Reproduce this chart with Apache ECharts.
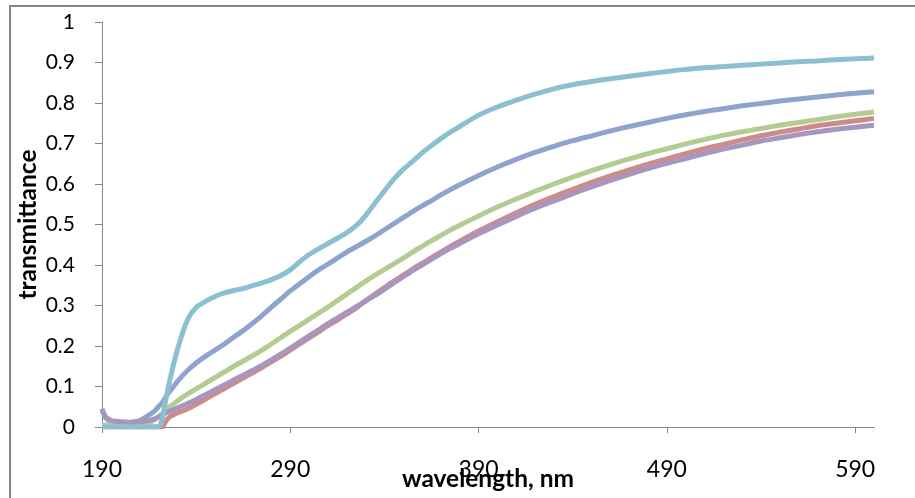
<!DOCTYPE html>
<html>
<head>
<meta charset="utf-8">
<script src="https://cdn.jsdelivr.net/npm/echarts@6/dist/echarts.min.js"></script>
<style>
html,body{margin:0;padding:0;background:#fff;}
#chart{width:915px;height:498px;}
</style>
</head>
<body>
<div id="chart"></div>
<script>
// wavelength grid (nm)
const wavelengths = [190,192,195,200,205,210,215,218,220,222,224,226,228,230,233,236,240,245,250,255,260,265,270,275,280,285,290,295,300,305,310,315,320,325,330,335,340,345,350,355,360,365,370,375,380,390,400,410,420,430,440,450,460,470,480,490,500,510,520,530,540,550,560,570,580,590,600];

const seriesBlue = [0.045,0.022,0.014,0.010,0.011,0.016,0.030,0.040,0.050,0.060,0.075,0.088,0.100,0.112,0.128,0.142,0.158,0.175,0.190,0.205,0.222,0.238,0.256,0.275,0.296,0.316,0.336,0.354,0.371,0.388,0.402,0.417,0.432,0.445,0.458,0.472,0.487,0.502,0.517,0.532,0.546,0.559,0.573,0.586,0.598,0.621,0.642,0.661,0.678,0.693,0.707,0.719,0.731,0.742,0.752,0.762,0.771,0.779,0.786,0.793,0.799,0.805,0.810,0.815,0.820,0.824,0.828];

const seriesRed = [0,0,0,0,0,0,0,0,0,0,0.015,0.025,0.030,0.035,0.040,0.046,0.056,0.069,0.082,0.095,0.108,0.121,0.134,0.147,0.161,0.175,0.190,0.205,0.220,0.235,0.250,0.264,0.279,0.294,0.312,0.328,0.344,0.360,0.375,0.390,0.404,0.418,0.432,0.446,0.459,0.484,0.507,0.529,0.550,0.569,0.587,0.604,0.620,0.635,0.649,0.662,0.675,0.687,0.698,0.709,0.719,0.728,0.736,0.744,0.750,0.756,0.762];

const seriesGreen = [0.005,0.005,0.005,0.005,0.006,0.006,0.010,0.018,0.025,0.033,0.042,0.050,0.057,0.064,0.074,0.083,0.094,0.108,0.122,0.136,0.150,0.163,0.176,0.190,0.205,0.221,0.236,0.251,0.266,0.281,0.296,0.312,0.328,0.344,0.360,0.375,0.389,0.403,0.417,0.432,0.446,0.460,0.473,0.486,0.498,0.521,0.543,0.563,0.582,0.600,0.617,0.633,0.648,0.662,0.675,0.687,0.699,0.710,0.720,0.729,0.737,0.745,0.752,0.759,0.766,0.772,0.778];

const seriesPurple = [0.040,0.025,0.016,0.013,0.012,0.013,0.016,0.020,0.025,0.030,0.035,0.039,0.043,0.047,0.053,0.059,0.068,0.080,0.092,0.104,0.116,0.128,0.140,0.152,0.166,0.180,0.195,0.210,0.225,0.240,0.255,0.269,0.283,0.297,0.311,0.325,0.340,0.356,0.371,0.386,0.400,0.414,0.428,0.441,0.453,0.477,0.499,0.520,0.540,0.558,0.576,0.593,0.609,0.624,0.638,0.651,0.663,0.675,0.686,0.696,0.706,0.714,0.722,0.729,0.735,0.740,0.745];

const seriesCyan = [0,0,0,0,0,0,0,0,0,0.020,0.070,0.115,0.155,0.190,0.235,0.270,0.295,0.310,0.322,0.331,0.337,0.342,0.349,0.356,0.364,0.374,0.388,0.408,0.426,0.440,0.453,0.466,0.480,0.497,0.522,0.553,0.583,0.612,0.636,0.656,0.677,0.695,0.712,0.728,0.742,0.770,0.790,0.807,0.822,0.835,0.845,0.853,0.860,0.866,0.872,0.878,0.883,0.887,0.890,0.893,0.896,0.899,0.902,0.904,0.907,0.909,0.911];

const xTickLabels = [190,290,390,490,590];
const yTickLabels = [0,0.1,0.2,0.3,0.4,0.5,0.6,0.7,0.8,0.9,1];

const seriesDefs = [
  {name:'s1', data:seriesBlue,   color:'#8ea4ce'},
  {name:'s2', data:seriesRed,    color:'#cd8c8a'},
  {name:'s3', data:seriesGreen,  color:'#b4cb92'},
  {name:'s4', data:seriesPurple, color:'#a696c0'},
  {name:'s5', data:seriesCyan,   color:'#8bbfd2'}
];

const chart = echarts.init(document.getElementById('chart'), null, {renderer:'canvas'});
const axisColor = '#868686';
const font = 'Lato, "Open Sans", sans-serif';

chart.setOption({
  animation:false,
  backgroundColor:'#ffffff',
  graphic:[{
    type:'rect', silent:true, z:-1,
    shape:{x:10, y:6, width:1200, height:1200},
    style:{fill:'none', stroke:axisColor, lineWidth:2}
  }],
  grid:{left:102, right:41, top:22, bottom:71, containLabel:false, outerBoundsMode:'none'},
  xAxis:{
    type:'value', min:190, max:600,
    name:'wavelength, nm', nameLocation:'middle', nameGap:40, nameMoveOverlap:false,
    nameTextStyle:{fontFamily:font, fontWeight:'bold', fontSize:24.5, color:'#000'},
    axisLine:{show:true, lineStyle:{color:axisColor, width:1}},
    axisTick:{show:true, length:6, lineStyle:{color:axisColor}, customValues:xTickLabels},
    axisLabel:{show:true, customValues:xTickLabels, margin:31, fontFamily:font, fontSize:23, color:'#000'},
    splitLine:{show:false}
  },
  yAxis:{
    type:'value', min:0, max:1,
    name:'transmittance', nameLocation:'middle', nameGap:61, nameRotate:90, nameMoveOverlap:false,
    nameTextStyle:{fontFamily:font, fontWeight:'bold', fontSize:24.5, color:'#000'},
    axisLine:{show:true, lineStyle:{color:axisColor, width:1}},
    axisTick:{show:true, length:7, lineStyle:{color:axisColor}, customValues:yTickLabels},
    axisLabel:{show:true, customValues:yTickLabels, margin:27, fontFamily:font, fontSize:21, color:'#000',
      formatter:function(v){return String(Math.round(v*10)/10);}},
    splitLine:{show:false}
  },
  series: seriesDefs.map(function(s){
    return {
      type:'line', name:s.name, showSymbol:false, smooth:0.2,
      lineStyle:{color:s.color, width:5},
      itemStyle:{color:s.color},
      data: wavelengths.map(function(w,i){return [w, s.data[i]];})
    };
  })
});
</script>
</body>
</html>
